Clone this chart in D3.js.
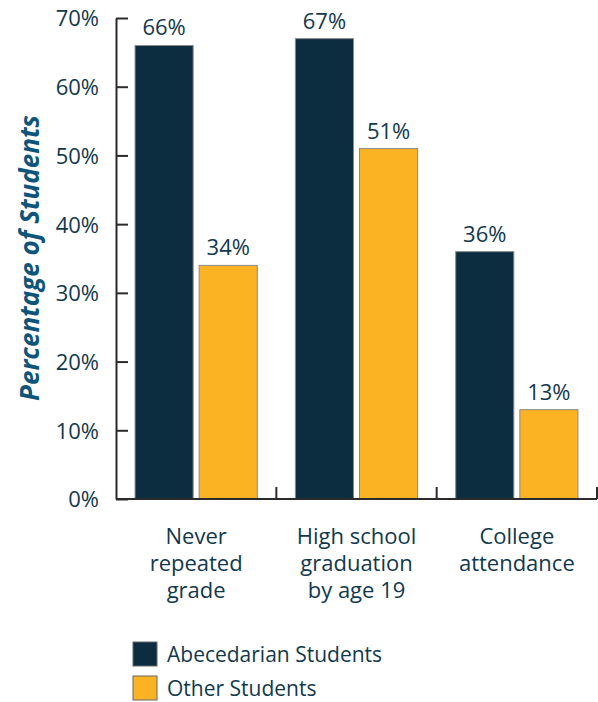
<!DOCTYPE html>
<html>
<head>
<meta charset="utf-8">
<script src="https://cdn.jsdelivr.net/npm/d3@7"></script>
<style>
  body { margin: 0; background: #fff; }
  text { font-family: "Open Sans", "Noto Sans", sans-serif; }
</style>
</head>
<body>
<svg id="chart" width="598" height="702"></svg>
<script>
// data
const categories = [
    ['Never', 'repeated', 'grade'],
    ['High school', 'graduation', 'by age 19'],
    ['College', 'attendance']
];
const seriesNames = ['Abecedarian Students', 'Other Students'];
const abecedarian = [66, 67, 36];
const other = [34, 51, 13];
const yTicks = [0, 10, 20, 30, 40, 50, 60, 70];

const colors = ['#0b2d3f', '#fbb324'];
const textColor = '#12384d';

const svg = d3.select('#chart');
const plotLeft = 116, plotRight = 597, plotTop = 18, plotBottom = 499;

let x = d3.scaleBand()
    .domain(d3.range(categories.length))
    .range([plotLeft, plotRight])
    .padding(0);

let xSub = d3.scaleBand()
    .domain(d3.range(seriesNames.length))
    .range([0, x.bandwidth()])
    .paddingInner(0.094)
    .paddingOuter(0.297);

let y = d3.scaleLinear()
    .domain([0, 70])
    .range([plotBottom, plotTop]);

// y axis, ticks point inward
let yAxis = svg.append('g')
    .attr('transform', 'translate(' + plotLeft + ',0)')
    .call(d3.axisLeft(y).tickValues(yTicks).tickSizeInner(-12).tickSizeOuter(0)
        .tickFormat(d => d + '%'));
yAxis.select('.domain').attr('stroke', '#2b2b2b').attr('stroke-width', 2);
yAxis.selectAll('.tick line').attr('stroke', '#2b2b2b').attr('stroke-width', 2);
yAxis.selectAll('.tick text')
    .attr('x', -17)
    .attr('dy', '0.36em')
    .attr('fill', textColor)
    .style('font-size', '22px');

// bars
const rows = categories.map((c, i) => [abecedarian[i], other[i]]);
let groups = svg.selectAll('.group')
    .data(rows)
    .enter().append('g')
    .attr('transform', (d, i) => 'translate(' + x(i) + ',0)');

groups.selectAll('rect')
    .data(d => d)
    .enter().append('rect')
    .attr('x', (d, j) => xSub(j))
    .attr('y', d => y(d))
    .attr('width', xSub.bandwidth())
    .attr('height', d => plotBottom - y(d))
    .attr('fill', (d, j) => colors[j])
    .attr('stroke', '#8a8a8a')
    .attr('stroke-width', 1);

groups.selectAll('.val')
    .data(d => d)
    .enter().append('text')
    .attr('x', (d, j) => xSub(j) + xSub.bandwidth() / 2)
    .attr('y', d => y(d) - 10)
    .attr('text-anchor', 'middle')
    .attr('fill', textColor)
    .style('font-size', '22px')
    .text(d => d + '%');

// x baseline with category dividers
svg.append('line')
    .attr('x1', plotLeft).attr('x2', plotRight)
    .attr('y1', plotBottom).attr('y2', plotBottom)
    .attr('stroke', '#2b2b2b').attr('stroke-width', 2);
svg.selectAll('.divider')
    .data(d3.range(1, categories.length + 1))
    .enter().append('line')
    .attr('x1', i => x(i - 1) + x.bandwidth())
    .attr('x2', i => x(i - 1) + x.bandwidth())
    .attr('y1', plotBottom).attr('y2', plotBottom - 12)
    .attr('stroke', '#2b2b2b').attr('stroke-width', 2);

// category labels
let catLabels = svg.selectAll('.cat')
    .data(categories)
    .enter().append('text')
    .attr('text-anchor', 'middle')
    .attr('fill', textColor)
    .style('font-size', '22px');
catLabels.selectAll('tspan')
    .data((d, i) => d.map(line => ({line: line, i: i})))
    .enter().append('tspan')
    .attr('x', d => x(d.i) + x.bandwidth() / 2)
    .attr('y', (d, k) => 544 + k * 27)
    .text(d => d.line);

// y title
svg.append('text')
    .attr('transform', 'translate(39,258) rotate(-90)')
    .attr('text-anchor', 'middle')
    .attr('fill', '#0e5579')
    .style('font-size', '26px')
    .style('font-weight', 'bold')
    .style('font-style', 'italic')
    .text('Percentage of Students');

// legend
let legend = svg.selectAll('.legend')
    .data(seriesNames)
    .enter().append('g')
    .attr('transform', (d, i) => 'translate(133,' + (642 + i * 34) + ')');
legend.append('rect')
    .attr('width', 24).attr('height', 24)
    .attr('fill', (d, i) => colors[i])
    .attr('stroke', '#666').attr('stroke-width', 1);
legend.append('text')
    .attr('x', 34).attr('y', 12)
    .attr('dy', '0.36em')
    .attr('fill', textColor)
    .style('font-size', '21px')
    .text(d => d);
</script>
</body>
</html>
